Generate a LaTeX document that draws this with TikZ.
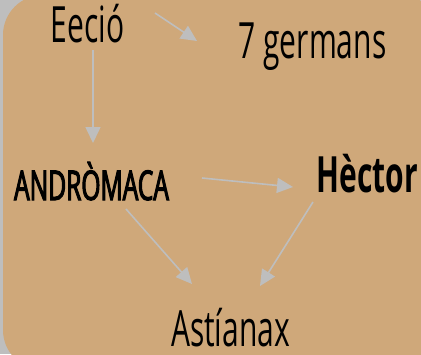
\documentclass[tikz,border=0pt]{standalone}
\usepackage{fontspec}
\setmainfont[FakeStretch=0.6]{Open Sans}
\newfontfamily\capsfont[FakeStretch=0.6,FakeBold=2.5]{Open Sans}
\usetikzlibrary{arrows.meta}
\usetikzlibrary{calc}
\usepackage{xcolor}
\definecolor{tan}{HTML}{CFA87A}
\definecolor{edgegray}{HTML}{BEBEBE}

\begin{document}
\begin{tikzpicture}[x=1pt,y=-1pt,
        person/.style={anchor=base,inner sep=0pt,font=\fontsize{50}{54}\selectfont},
        link/.style={draw=edgegray,line width=1.6pt,-{Triangle[length=16pt,width=15pt]}}]
                \useasboundingbox (0,0) rectangle (421,354);
                \clip (0,0) rectangle (421,354);
                \fill[edgegray] (0,0) rectangle (421,354);
                \fill[tan,rounded corners=40pt] (3,-5) rectangle (440,370);
                \node[person] (eecio) at (87.5,42) {Eeció};
                \node[person] (germans) at (312.5,58) {7 germans};
                \node[person,font=\fontsize{41}{45}\capsfont] (andromaca) at (91.5,200) {ANDRÒMACA};
                \node[person,font=\fontsize{50}{54}\selectfont\bfseries] (hector) at (367.5,192) {Hèctor};
                \node[person] (astianax) at (230.5,346) {Astíanax};
                \draw[link] ($(eecio.base)+(67.5,-29)$) -- ($(germans.base)+(-115.5,-17)$);
                \draw[link] ($(eecio.base)+(5.5,8)$) -- ($(andromaca.base)+(1.5,-57)$);
                \draw[link] ($(andromaca.base)+(110.5,-22)$) -- ($(hector.base)+(-74.5,-5)$);
                \draw[link] ($(andromaca.base)+(34.5,9)$) -- ($(astianax.base)+(-38.5,-62)$);
                \draw[link] ($(hector.base)+(-54.5,10)$) -- ($(astianax.base)+(29.5,-60)$);
            \end{tikzpicture}
\end{document}
